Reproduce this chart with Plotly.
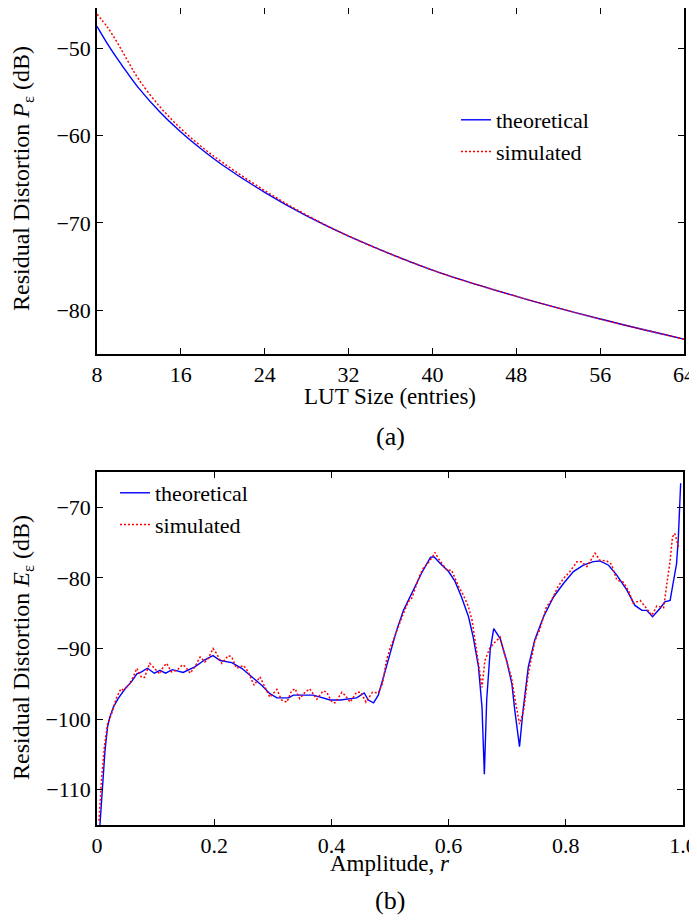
import plotly.graph_objects as go

# page body keeps its default 8px margin, so the figure is drawn smaller
# and every position below is given in window pixels, then shifted back
W, H = 689, 907
OFF = 8
FONT = "Liberation Serif"

# (a) residual distortion vs LUT size
lut_size = [8, 9, 10, 11, 12, 14, 16, 18, 20, 24, 28, 32, 40, 48, 56, 64]
p_theoretical = [-47.5, -49.5, -51.3, -53.0, -54.6, -57.3, -59.6, -61.6, -63.4,
                 -66.5, -69.2, -71.5, -75.4, -78.4, -81.0, -83.3]
p_simulated = [-46.1, -47.6, -49.5, -51.6, -53.6, -56.7, -59.2, -61.3, -63.1,
               -66.3, -69.1, -71.5, -75.4, -78.4, -81.0, -83.3]

# (b) residual distortion vs amplitude
r_theo = [0.005, 0.009, 0.0137, 0.018, 0.022, 0.028, 0.036, 0.048, 0.059, 0.068,
          0.076, 0.086, 0.098, 0.1075, 0.117, 0.1286, 0.147, 0.167, 0.184, 0.198,
          0.210, 0.230, 0.247, 0.264, 0.281, 0.295, 0.307, 0.327, 0.335, 0.369,
          0.381, 0.398, 0.415, 0.443, 0.456, 0.463, 0.472, 0.480, 0.489, 0.500,
          0.506, 0.511, 0.523, 0.540, 0.554, 0.569, 0.575, 0.585, 0.600, 0.611,
          0.622, 0.634, 0.642, 0.651, 0.657, 0.661, 0.665, 0.671, 0.677, 0.688,
          0.699, 0.708, 0.713, 0.721, 0.727, 0.736, 0.747, 0.762, 0.779, 0.796,
          0.813, 0.830, 0.847, 0.858, 0.873, 0.887, 0.904, 0.918, 0.930, 0.938,
          0.948, 0.961, 0.969, 0.978, 0.984, 0.989, 0.992, 0.996]
e_theo = [-115.0, -109.7, -104.4, -101.1, -99.7, -98.3, -97.1, -95.7, -94.7, -93.6,
          -93.3, -92.8, -93.5, -93.1, -93.5, -93.0, -93.4, -92.6, -91.6, -91.0,
          -91.7, -92.0, -92.8, -94.0, -95.2, -96.4, -97.0, -97.0, -96.6, -96.6,
          -96.9, -97.3, -97.3, -97.0, -96.3, -97.3, -97.7, -96.6, -94.0, -90.7,
          -88.8, -87.5, -84.6, -81.7, -79.3, -77.1, -77.0, -77.9, -79.1, -80.5,
          -82.7, -85.5, -88.4, -92.6, -98.3, -107.8, -97.3, -90.2, -87.2, -88.6,
          -91.7, -95.0, -98.8, -103.9, -98.8, -92.6, -88.8, -85.5, -82.7, -80.8,
          -79.1, -78.2, -77.7, -77.6, -78.2, -79.6, -81.7, -83.9, -84.6, -84.6,
          -85.5, -84.3, -83.4, -83.2, -80.5, -78.0, -74.4, -66.6]

r_sim = [0.0034, 0.0051, 0.008, 0.0125, 0.018, 0.025, 0.0336, 0.041, 0.045, 0.0535,
         0.059, 0.064, 0.068, 0.076, 0.081, 0.090, 0.096, 0.107, 0.113, 0.119,
         0.127, 0.136, 0.146, 0.151, 0.159, 0.167, 0.176, 0.184, 0.190, 0.198,
         0.204, 0.213, 0.224, 0.230, 0.238, 0.250, 0.258, 0.268, 0.278, 0.287,
         0.295, 0.307, 0.315, 0.324, 0.332, 0.338, 0.346, 0.355, 0.363, 0.375,
         0.386, 0.392, 0.401, 0.406, 0.418, 0.423, 0.432, 0.443, 0.450, 0.459,
         0.470, 0.480, 0.487, 0.494, 0.500, 0.508, 0.517, 0.523, 0.531, 0.537,
         0.543, 0.551, 0.557, 0.565, 0.571, 0.577, 0.582, 0.597, 0.605, 0.617,
         0.625, 0.634, 0.640, 0.645, 0.651, 0.657, 0.662, 0.670, 0.679, 0.688,
         0.696, 0.707, 0.714, 0.721, 0.728, 0.736, 0.747, 0.756, 0.767, 0.776,
         0.787, 0.796, 0.807, 0.819, 0.827, 0.836, 0.850, 0.858, 0.870, 0.878,
         0.887, 0.898, 0.907, 0.915, 0.927, 0.938, 0.947, 0.955, 0.967, 0.972,
         0.978, 0.982, 0.986, 0.993]
e_sim = [-114.4, -111.5, -108.2, -104.0, -100.7, -99.2, -96.9, -95.7, -95.9, -95.2,
         -94.5, -93.6, -92.8, -94.1, -94.1, -92.1, -92.6, -93.6, -92.6, -92.1,
         -93.3, -93.1, -92.3, -92.6, -93.5, -92.6, -91.2, -91.9, -91.4, -90.0,
         -90.7, -92.1, -91.0, -91.2, -92.8, -92.4, -93.3, -95.2, -94.0, -95.5,
         -96.9, -95.8, -97.3, -97.6, -96.0, -95.7, -97.1, -96.2, -95.7, -97.2,
         -96.0, -96.2, -97.6, -97.7, -96.2, -96.6, -97.6, -96.2, -96.2, -97.6,
         -96.2, -96.3, -95.0, -91.7, -90.0, -88.3, -86.2, -85.0, -83.4, -82.9,
         -81.5, -79.6, -78.6, -77.9, -77.2, -76.4, -77.2, -78.9, -78.9, -81.2,
         -82.4, -84.1, -86.0, -88.8, -91.7, -95.5, -91.7, -90.0, -89.1, -88.4,
         -91.0, -94.0, -97.5, -100.7, -98.8, -93.6, -89.0, -87.2, -84.1, -83.1,
         -81.2, -80.1, -79.1, -77.7, -77.7, -78.4, -76.5, -77.5, -77.6, -78.1,
         -80.3, -80.6, -81.8, -83.6, -83.2, -84.4, -85.3, -84.0, -84.2, -81.1,
         -77.6, -74.2, -73.7, -75.8]

lut_ticks = [8, 16, 24, 32, 40, 48, 56, 64]
amp_ticks = [0, 0.2, 0.4, 0.6, 0.8, 1.0]
amp_ticktext = ["0", "0.2", "0.4", "0.6", "0.8", "1.0"]


def px(x):
    return (x - OFF) / W


def py(y):
    return 1 - (y - OFF) / H


BLUE = "#0000ff"
RED = "#ff0000"
DOT = "2px,2px"

fig = go.Figure()
fig.add_trace(go.Scatter(x=lut_size, y=p_theoretical, mode="lines", name="theoretical",
                         line=dict(color=BLUE, width=1.4, shape="spline"),
                         xaxis="x", yaxis="y", legend="legend"))
fig.add_trace(go.Scatter(x=lut_size, y=p_simulated, mode="lines", name="simulated",
                         line=dict(color=RED, width=1.5, dash=DOT, shape="spline"),
                         xaxis="x", yaxis="y", legend="legend"))
fig.add_trace(go.Scatter(x=r_theo, y=e_theo, mode="lines", name="theoretical",
                         line=dict(color=BLUE, width=1.4),
                         xaxis="x2", yaxis="y2", legend="legend2"))
fig.add_trace(go.Scatter(x=r_sim, y=e_sim, mode="lines", name="simulated",
                         line=dict(color=RED, width=1.5, dash=DOT),
                         xaxis="x2", yaxis="y2", legend="legend2"))

axis_style = dict(showline=True, linecolor="black", linewidth=1.5, mirror="ticks",
                  ticks="inside", ticklen=6, tickwidth=1, tickcolor="black",
                  showgrid=False, zeroline=False, automargin=False,
                  ticklabeloverflow="allow",
                  tickfont=dict(family=FONT, size=22, color="black"))

fig.update_layout(
    width=W, height=H,
    margin=dict(l=0, r=0, t=0, b=0, autoexpand=False),
    paper_bgcolor="white", plot_bgcolor="white",
    font=dict(family=FONT, size=22, color="black"),
    xaxis=dict(domain=[px(97), px(684)], range=[8, 64], tickvals=lut_ticks,
               anchor="y", **axis_style),
    # the box top can't sit above the page margin, so it starts at 8px (-45.4 dB)
    yaxis=dict(domain=[py(354), py(8)], range=[-85, -45.4], dtick=10,
               anchor="x", **axis_style),
    xaxis2=dict(domain=[px(97), px(683)], range=[0, 1], tickvals=amp_ticks,
                ticktext=amp_ticktext, anchor="y2", **axis_style),
    yaxis2=dict(domain=[py(825), py(472)], range=[-115, -65], dtick=10,
                anchor="x2", **axis_style),
    legend=dict(x=px(456), y=py(99), xanchor="left", yanchor="top",
                bgcolor="rgba(0,0,0,0)", font=dict(family=FONT, size=22)),
    legend2=dict(x=px(115), y=py(472), xanchor="left", yanchor="top",
                 bgcolor="rgba(0,0,0,0)", font=dict(family=FONT, size=22)),
    showlegend=True,
)

annotations = [
    ("LUT Size (entries)", 390, 396, 23),
    ("(a)", 390, 437, 26),
    ("Amplitude, <i>r</i>", 390, 863, 23),
    ("(b)", 390, 900, 26),
]
for text, x, y, size in annotations:
    fig.add_annotation(text=text, x=px(x), y=py(y), xref="paper", yref="paper",
                       showarrow=False, font=dict(family=FONT, size=size),
                       xanchor="center", yanchor="middle")

y_titles = [
    ("Residual Distortion <i>P</i><sub>ε</sub> (dB)", 179),
    ("Residual Distortion <i>E</i><sub>ε</sub> (dB)", 648),
]
for text, y in y_titles:
    fig.add_annotation(text=text, x=px(23), y=py(y), xref="paper", yref="paper",
                       showarrow=False, textangle=-90, font=dict(family=FONT, size=24),
                       xanchor="center", yanchor="middle")

fig.write_html("out.html")
